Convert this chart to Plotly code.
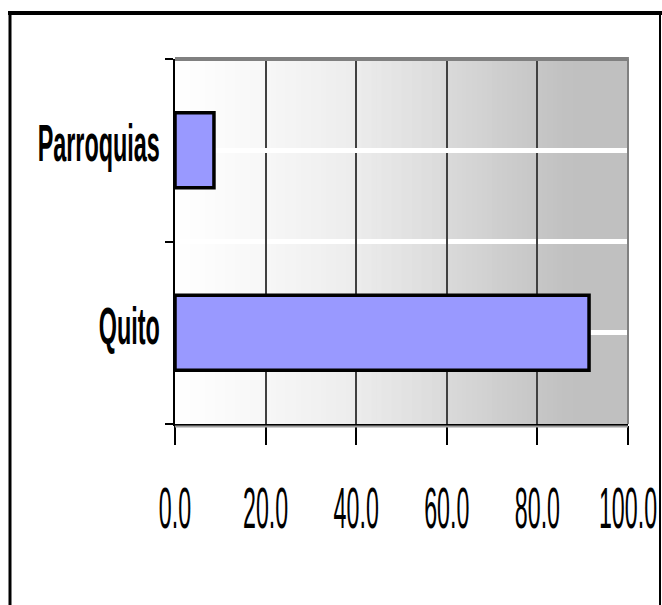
import plotly.graph_objects as go

categories = ["Quito", "Parroquias"]
values = [91.4, 8.6]
x_ticks = [0, 20, 40, 60, 80, 100]
x_tick_labels = ["0.0", "20.0", "40.0", "60.0", "80.0", "100.0"]

W, H = 662, 605
L, R, T, B = 175, 34, 59, 181
pw, ph = W - L - R, H - T - B


def px(xs):  # screen x -> paper
    return (xs - L) / pw


def py(ys):  # screen y -> paper
    return (H - B - ys) / ph


FONT = "Liberation Sans, Arial, sans-serif"

fig = go.Figure(go.Bar(
    x=values, y=list(range(len(categories))), orientation="h",
    width=0.41,
    marker=dict(color="#9999FF", line=dict(color="black", width=3.5)),
    hoverinfo="skip",
))

# gradient background (white -> silver)
stops = [(0.0, 255), (0.2, 247), (0.4, 236), (0.6, 218), (0.8, 198), (0.88, 192), (1.0, 192)]


def grey(t):
    for (t0, v0), (t1, v1) in zip(stops[:-1], stops[1:]):
        if t0 <= t <= t1:
            return v0 + (v1 - v0) * (t - t0) / (t1 - t0)
    return stops[-1][1]


shapes = []
n = 90
for i in range(n):
    a, b = i / n, (i + 1) / n
    g = int(round(grey((a + b) / 2)))
    c = f"rgb({g},{g},{g})"
    shapes.append(dict(type="rect", xref="x domain", yref="y domain",
                       x0=a, x1=b + 0.002, y0=0, y1=1, layer="below",
                       fillcolor=c, line=dict(width=0)))

# plot-area top and right borders (grey)
shapes.append(dict(type="line", xref="x domain", yref="y domain", x0=0, x1=1.002, y0=1, y1=1,
                   line=dict(color="#808080", width=4)))
shapes.append(dict(type="line", xref="x domain", yref="y domain", x0=1, x1=1, y0=0, y1=1,
                   line=dict(color="#808080", width=2)))
shapes.append(dict(type="line", xref="paper", yref="paper", x0=0, x1=1, y0=py(426.5), y1=py(426.5),
                   line=dict(color="#A0A0A0", width=2)))

# outer chart frame
shapes.append(dict(type="line", xref="paper", yref="paper", x0=px(8), x1=px(662), y0=py(13), y1=py(13),
                   line=dict(color="black", width=4)))
shapes.append(dict(type="line", xref="paper", yref="paper", x0=px(10), x1=px(10), y0=py(11), y1=py(620),
                   line=dict(color="black", width=3)))
shapes.append(dict(type="line", xref="paper", yref="paper", x0=px(660), x1=px(660), y0=py(11), y1=py(620),
                   line=dict(color="black", width=2)))

fig.update_layout(
    width=W, height=H,
    margin=dict(l=L, r=R, t=T, b=B, autoexpand=False),
    paper_bgcolor="white", plot_bgcolor="white",
    showlegend=False,
    shapes=shapes,
    xaxis=dict(
        range=[0, 100], tickvals=x_ticks, ticktext=x_tick_labels, tickangle=0,
        showgrid=True, gridcolor="#404040", gridwidth=1.5,
        showline=True, linecolor="black", linewidth=2,
        ticks="outside", ticklen=19, tickwidth=1.5, tickcolor="black",
        tickfont=dict(family=FONT, size=58, color="black"),
        ticklabelstandoff=13, ticklabeloverflow="allow",
        zeroline=False, fixedrange=True, automargin=False,
    ),
    yaxis=dict(
        range=[-0.5, 1.5], tickvals=list(range(len(categories))), ticktext=categories,
        showgrid=True, gridcolor="white", gridwidth=5,
        showline=True, linecolor="black", linewidth=1.5,
        ticks="", ticklabelstandoff=3, ticklabelshift=-7,
        tickfont=dict(family=FONT, size=52, color="black", weight="bold"),
        minor=dict(tickmode="array", tickvals=[-0.5, 0.5, 1.5], ticks="outside", ticklen=8,
                   tickwidth=1.5, tickcolor="black", showgrid=True, gridcolor="white", gridwidth=5),
        zeroline=False, fixedrange=True, automargin=False,
    ),
)

# Remove the page margin so the figure fills the window, and compress the
# tick-label glyphs horizontally (the original uses a tall condensed face).
post = """
document.body.style.margin = '0';
document.body.style.overflow = 'hidden';
var gd = document.getElementById('{plot_id}');
function squeeze(){
  [['.xtick text', 0.40], ['.ytick text', 0.45]].forEach(function(p){
    gd.querySelectorAll(p[0]).forEach(function(t){
      if (!t.getAttribute('data-w')) { t.setAttribute('data-w', t.getComputedTextLength()); }
      var w = parseFloat(t.getAttribute('data-w'));
      t.setAttribute('textLength', (w * p[1]).toFixed(1));
      t.setAttribute('lengthAdjust', 'spacingAndGlyphs');
    });
  });
}
squeeze();
gd.on('plotly_afterplot', squeeze);
"""

fig.write_html("out.html", post_script=post, config={"displayModeBar": False})
